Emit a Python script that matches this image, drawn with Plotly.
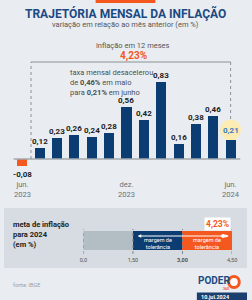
import plotly.graph_objects as go

# ---------------- data ----------------
months = ["jun/23", "jul/23", "ago/23", "set/23", "out/23", "nov/23", "dez/23",
          "jan/24", "fev/24", "mar/24", "abr/24", "mai/24", "jun/24"]
values = [-0.08, 0.12, 0.23, 0.26, 0.24, 0.28, 0.56, 0.42, 0.83, 0.16, 0.38, 0.46, 0.21]
axis_label_idx = [0, 6, 12]
axis_labels = ["jun.<br>2023", "dez.<br>2023", "jun.<br>2024"]

target_segments = [0.0, 1.50, 3.00, 4.50]          # gray | blue | orange
target_ticktext = ["0,0", "1,50", "<b>3,00</b>", "4,50"]
inflation_12m = 4.23

ORANGE = "#f4581f"
BLUE = "#0b3d73"
BG = "#e9edf1"
PANEL = "#d6dce1"
FONT = "Roboto"

W, H = 252, 300
def py(p):  # pixel y -> paper
    return 1 - p / H
def px(p):
    return p / W

fmt = lambda v: f"{v:.2f}".replace(".", ",")

fig = go.Figure()

# ---------------- main bars ----------------
colors = [ORANGE if v < 0 else BLUE for v in values]
fig.add_trace(go.Bar(x=months, y=values, marker=dict(color=colors, line=dict(width=0)),
                     width=0.58, xaxis="x", yaxis="y", hoverinfo="skip", showlegend=False))

# ---------------- target bar ----------------
seg_colors = ["#b3bdc4", BLUE, ORANGE]
for i in range(3):
    fig.add_trace(go.Bar(y=[0], x=[target_segments[i + 1] - target_segments[i]],
                         base=[target_segments[i]], orientation="h",
                         marker=dict(color=seg_colors[i], line=dict(width=0)),
                         width=0.66, xaxis="x2", yaxis="y2", hoverinfo="skip", showlegend=False))
fig.add_trace(go.Scatter(x=[inflation_12m], y=[0.155], mode="markers",
                         marker=dict(color="white", size=4), xaxis="x2", yaxis="y2",
                         hoverinfo="skip", showlegend=False))

annotations = []
shapes = []

def ann(**kw):
    kw.setdefault("showarrow", False)
    kw.setdefault("xanchor", "center")
    kw.setdefault("yanchor", "middle")
    annotations.append(kw)

# background panels
shapes.append(dict(type="rect", xref="paper", yref="paper", x0=0, x1=1, y0=py(268), y1=py(208),
                   fillcolor=PANEL, line=dict(width=0), layer="below"))
shapes.append(dict(type="rect", xref="paper", yref="paper", x0=px(95), x1=px(157), y0=py(3), y1=1,
                   fillcolor=ORANGE, line=dict(width=0), layer="below"))

# highlight circle behind last label
top_y = (159 - 62) / 92.8
circ_y = (159 - 130) / 92.8
shapes.append(dict(type="circle", xref="x", yref="y", xsizemode="pixel", ysizemode="pixel",
                   xanchor=12, yanchor=circ_y, x0=-10.5, x1=10.5, y0=-10.5, y1=10.5,
                   fillcolor="#fcebb2", line=dict(width=0), layer="below"))
# baseline
shapes.append(dict(type="line", xref="paper", yref="y", x0=px(10), x1=px(245), y0=0, y1=0,
                   line=dict(color="#a3a9ae", width=1.5), layer="above"))
# bracket
shapes.append(dict(type="line", xref="x", yref="y", x0=0.5, x1=0.5, y0=0, y1=top_y,
                   line=dict(color="#8a9096", width=1, dash="dot")))
shapes.append(dict(type="line", xref="x", yref="y", x0=0.5, x1=12, y0=top_y, y1=top_y,
                   line=dict(color="#8a9096", width=1)))
shapes.append(dict(type="line", xref="x", yref="y", x0=12, x1=12, y0=top_y, y1=circ_y + 11 / 92.8,
                   line=dict(color="#8a9096", width=1, dash="dot")))

# value labels
for i, v in enumerate(values):
    if v < 0:
        ann(x=months[i], y=v, xref="x", yref="y", text=f"<b>{fmt(v)}</b>", yanchor="top", yshift=-2,
            font=dict(size=8, color="#222", family=FONT))
    elif i == len(values) - 1:
        ann(x=months[i], y=circ_y, xref="x", yref="y", text=f"<b>{fmt(v)}</b>",
            font=dict(size=8, color="#3a7cc2", family=FONT))
    else:
        ann(x=months[i], y=v, xref="x", yref="y", text=f"<b>{fmt(v)}</b>", yanchor="bottom",
            font=dict(size=8, color="#222", family=FONT))

# month labels
for idx, lab in zip(axis_label_idx, axis_labels):
    ann(x=months[idx], y=py(189.5), xref="x", yref="paper", text=lab,
        font=dict(size=7.5, color="#6b7075", family=FONT))

# titles
ann(x=0.5, y=py(13), xref="paper", yref="paper", text="<b>TRAJETÓRIA MENSAL DA INFLAÇÃO</b>",
    font=dict(size=12, color="#1b4a82", family=FONT))
ann(x=0.5, y=py(24.5), xref="paper", yref="paper", text="variação em relação ao mês anterior (em %)",
    font=dict(size=7.5, color="#555", family=FONT))
ann(x=px(134), y=py(45), xref="paper", yref="paper", text="inflação em 12 meses",
    font=dict(size=7.5, color="#555", family=FONT))
ann(x=px(134), y=py(56), xref="paper", yref="paper", text=f"<b>{fmt(inflation_12m)}%</b>",
    font=dict(size=10, color=ORANGE, family=FONT))
ann(x=px(66), y=py(66), xref="paper", yref="paper", xanchor="left", yanchor="top", align="left",
    text="taxa mensal desacelerou<br>de <b>0,46%</b> em maio<br>para <b>0,21%</b> em junho",
    font=dict(size=7.5, color="#4a4f55", family=FONT))
ann(x=px(7), y=py(234), xref="paper", yref="paper", xanchor="left", align="left",
    text="<b>meta de inflação<br>para 2024<br>(em %)</b>",
    font=dict(size=7.5, color="#222", family=FONT))

# target bar texts
for mid in [(target_segments[1] + target_segments[2]) / 2, (target_segments[2] + target_segments[3]) / 2]:
    ann(x=mid, y=0, xref="x2", yref="y2", text="margem de<br>tolerância", yshift=-3,
        font=dict(size=5.5, color="white", family=FONT))
annotations.append(dict(x=4.4, y=0.155, ax=1.6, ay=0.155, xref="x2", yref="y2", axref="x2", ayref="y2",
                        text="", showarrow=True, arrowside="end+start", arrowhead=2, arrowsize=0.7,
                        arrowwidth=1, arrowcolor="white"))
ann(x=inflation_12m, y=py(224), xref="x2", yref="paper", xshift=-6,
    text=f"<b>{fmt(inflation_12m)}%</b>", bgcolor="white", borderpad=1,
    font=dict(size=8.5, color=ORANGE, family=FONT))
for t in target_segments:
    shapes.append(dict(type="line", xref="x2", yref="paper", x0=t, x1=t, y0=py(254), y1=py(229),
                       line=dict(color="#80868c", width=1, dash="dot"), layer="above"))

# footer
ann(x=px(7), y=py(285), xref="paper", yref="paper", xanchor="left", text="fonte: IBGE",
    font=dict(size=5.5, color="#9aa0a6", family=FONT))
ann(x=px(199), y=py(280.5), xref="paper", yref="paper", xanchor="left", text="<b>PODER</b>",
    font=dict(size=10, color="#1b4a82", family=FONT))
ann(x=px(230), y=py(289), xref="paper", yref="paper", text="<b>360</b>",
    font=dict(size=3.5, color=ORANGE, family=FONT))
ann(x=px(202), y=py(296.5), xref="paper", yref="paper", xanchor="left", text="<b>10.jul.2024</b>",
    font=dict(size=5.5, color="white", family=FONT))
shapes.append(dict(type="rect", xref="paper", yref="paper", x0=px(200), x1=1, y0=0, y1=py(292.5),
                   fillcolor="#1b3f6e", line=dict(width=0)))
shapes.append(dict(type="circle", xref="paper", yref="paper", x0=px(233), x1=px(244), y0=py(287.5), y1=py(276.5),
                   fillcolor="white", line=dict(color=ORANGE, width=3)))

fig.update_layout(
    width=W, height=H, margin=dict(l=0, r=0, t=0, b=0),
    paper_bgcolor=BG, plot_bgcolor="rgba(0,0,0,0)",
    bargap=0, barmode="overlay",
    xaxis=dict(domain=[0, 1], type="category", range=[-19 / 18, (W - 19) / 18], visible=False,
               fixedrange=True),
    yaxis=dict(domain=[py(180), py(60)], range=[(159 - 180) / 92.8, (159 - 60) / 92.8], visible=False,
               fixedrange=True),
    xaxis2=dict(domain=[px(82.3), px(236.5)], range=[0, 4.5], anchor="y2", showgrid=False,
                zeroline=False, showline=False, ticks="", tickvals=target_segments,
                ticktext=target_ticktext, tickfont=dict(size=5.5, color="#555", family=FONT)),
    yaxis2=dict(domain=[py(255), py(226)], range=[-0.5, 0.5], anchor="x2", visible=False),
    annotations=annotations, shapes=shapes,
    font=dict(family=FONT),
)

fig.write_html("out.html")
